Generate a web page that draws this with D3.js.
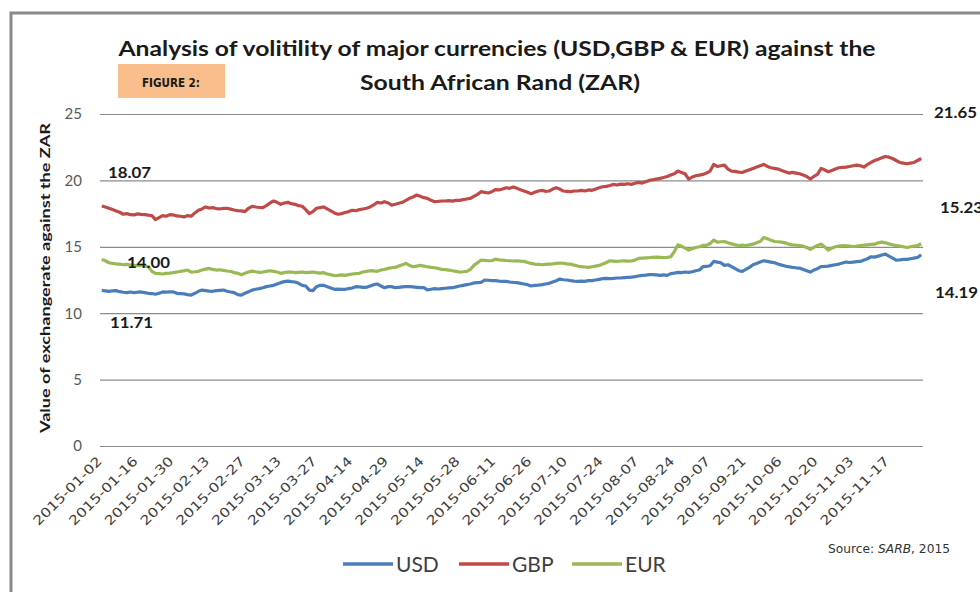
<!DOCTYPE html>
<html>
<head>
<meta charset="utf-8">
<script src="https://cdn.jsdelivr.net/npm/d3@7"></script>
<style>
  body { margin: 0; background: #fff; }
  svg { display: block; }
</style>
</head>
<body>
<svg width="980" height="592"></svg>
<script>
// trading days 2015-01-02 .. 2015-11-30, every 10th one is labelled
var tickLabels = ["2015-01-02","2015-01-16","2015-01-30","2015-02-13","2015-02-27","2015-03-13",
	"2015-03-27","2015-04-14","2015-04-29","2015-05-14","2015-05-28","2015-06-11","2015-06-26",
	"2015-07-10","2015-07-24","2015-08-07","2015-08-24","2015-09-07","2015-09-21","2015-10-06",
	"2015-10-20","2015-11-03","2015-11-17"];

var usd = [
	11.71,11.68,11.65,11.68,11.7,11.62,11.58,11.55,11.6,11.55,
	11.58,11.6,11.55,11.5,11.48,11.43,11.5,11.6,11.58,
	11.6,11.6,11.5,11.48,11.45,11.4,11.36,11.5,11.65,11.74,
	11.7,11.66,11.65,11.7,11.72,11.74,11.65,11.6,11.55,
	11.4,11.36,11.5,11.62,11.74,11.8,11.85,11.92,12.0,12.05,
	12.1,12.2,12.3,12.38,12.42,12.38,12.35,12.25,12.1,12.05,
	11.74,11.7,12.0,12.1,12.1,12.0,11.9,11.8,11.82,
	11.8,11.8,11.85,11.9,12.0,11.98,11.95,11.95,12.05,12.15,
	12.2,12.05,11.92,12.0,12.0,11.92,11.95,11.98,12.0,
	12.0,11.98,11.95,11.92,11.92,11.75,11.8,11.85,11.82,11.85,
	11.88,11.9,11.92,11.98,12.05,12.1,12.15,12.2,12.28,
	12.3,12.32,12.5,12.48,12.45,12.45,12.42,12.4,12.4,12.35,
	12.32,12.3,12.25,12.2,12.15,12.05,12.1,12.12,12.15,12.2,
	12.25,12.35,12.45,12.57,12.52,12.5,12.45,12.42,12.4,
	12.42,12.4,12.45,12.45,12.5,12.55,12.6,12.62,12.6,12.62,
	12.65,12.65,12.68,12.7,12.72,12.75,12.8,12.85,12.87,
	12.9,12.9,12.88,12.85,12.88,12.85,12.98,13.02,13.07,13.05,
	13.1,13.07,13.12,13.2,13.25,13.5,13.52,13.57,13.9,13.85,
	13.8,13.6,13.65,13.5,13.35,13.2,13.15,13.3,13.45,
	13.65,13.75,13.85,13.95,13.9,13.85,13.8,13.7,13.62,13.55,
	13.5,13.45,13.42,13.4,13.3,13.2,13.1,13.25,13.35,
	13.5,13.52,13.55,13.6,13.65,13.7,13.78,13.85,13.82,13.85,
	13.88,13.9,14.0,14.1,14.25,14.22,14.3,14.38,14.45,
	14.3,14.15,14.0,14.02,14.05,14.05,14.1,14.15,14.2,14.4
];

var gbp = [
	18.07,18.0,17.9,17.8,17.7,17.6,17.45,17.5,17.42,17.4,
	17.48,17.44,17.42,17.38,17.35,17.05,17.2,17.35,17.3,
	17.42,17.4,17.33,17.3,17.25,17.35,17.3,17.55,17.75,17.85,
	18.0,17.92,17.95,17.88,17.85,17.9,17.9,17.84,17.77,
	17.72,17.7,17.65,17.9,18.05,18.0,17.96,17.95,18.1,18.3,
	18.45,18.35,18.2,18.3,18.35,18.25,18.2,18.1,18.05,17.8,
	17.5,17.65,17.9,17.95,18.0,17.85,17.7,17.55,17.45,
	17.5,17.58,17.65,17.75,17.72,17.8,17.85,17.9,18.0,18.15,
	18.35,18.3,18.4,18.3,18.14,18.2,18.28,18.35,18.5,
	18.65,18.75,18.9,18.8,18.7,18.65,18.5,18.4,18.42,18.45,
	18.45,18.48,18.44,18.5,18.5,18.55,18.6,18.65,18.8,
	18.95,19.15,19.1,19.05,19.15,19.3,19.28,19.35,19.45,19.4,
	19.5,19.4,19.3,19.2,19.1,19.0,19.1,19.2,19.25,19.18,
	19.2,19.35,19.45,19.35,19.2,19.18,19.15,19.2,19.2,
	19.25,19.2,19.28,19.25,19.35,19.45,19.52,19.55,19.62,19.7,
	19.65,19.72,19.7,19.75,19.7,19.78,19.85,19.8,19.9,
	20.0,20.05,20.1,20.15,20.22,20.3,20.4,20.5,20.7,20.6,
	20.5,20.1,20.25,20.35,20.4,20.45,20.55,20.7,21.2,21.05,
	21.1,21.15,20.85,20.7,20.68,20.62,20.6,20.7,20.8,
	20.9,21.0,21.1,21.2,21.05,20.95,20.9,20.85,20.75,20.65,
	20.55,20.6,20.55,20.5,20.4,20.3,20.1,20.3,20.45,
	20.9,20.8,20.65,20.75,20.85,20.95,20.98,21.0,21.05,21.1,
	21.15,21.1,21.0,21.2,21.35,21.5,21.6,21.7,21.8,
	21.75,21.65,21.5,21.35,21.3,21.25,21.3,21.35,21.5,21.65
];

var eur = [
	14.05,13.95,13.8,13.75,13.72,13.7,13.65,13.68,13.62,13.6,
	13.58,13.6,13.55,13.5,13.15,13.0,12.98,12.95,13.0,
	13.02,13.05,13.1,13.15,13.2,13.25,13.1,13.12,13.15,13.25,
	13.32,13.37,13.3,13.25,13.27,13.22,13.18,13.15,13.05,
	13.0,12.9,13.0,13.1,13.17,13.12,13.08,13.1,13.15,13.2,
	13.15,13.1,13.0,13.05,13.1,13.1,13.05,13.08,13.1,13.05,
	13.08,13.1,13.05,13.02,13.05,12.95,12.9,12.83,12.85,
	12.88,12.85,12.9,12.95,12.98,13.0,13.1,13.15,13.2,13.18,
	13.15,13.25,13.3,13.37,13.42,13.45,13.55,13.65,13.75,
	13.6,13.5,13.55,13.6,13.55,13.5,13.45,13.42,13.37,13.3,
	13.28,13.25,13.2,13.15,13.1,13.12,13.15,13.3,13.6,
	13.8,14.0,13.98,13.95,13.95,14.07,14.02,14.0,13.97,13.95,
	13.93,13.95,13.92,13.9,13.82,13.75,13.7,13.68,13.65,13.68,
	13.7,13.72,13.75,13.78,13.76,13.72,13.7,13.62,13.55,
	13.5,13.48,13.45,13.5,13.55,13.6,13.7,13.82,13.95,13.92,
	13.9,13.93,13.95,13.92,13.93,14.0,14.13,14.15,14.17,
	14.18,14.2,14.22,14.2,14.18,14.2,14.25,14.63,15.15,15.05,
	14.9,14.75,14.85,14.95,15.0,15.1,15.1,15.25,15.5,15.35,
	15.38,15.4,15.3,15.22,15.15,15.1,15.12,15.1,15.15,
	15.2,15.3,15.4,15.7,15.6,15.5,15.4,15.38,15.35,15.3,
	15.2,15.15,15.12,15.1,15.05,14.95,14.8,14.95,15.1,
	15.2,15.0,14.75,14.9,15.0,15.05,15.1,15.08,15.05,15.02,
	15.05,15.1,15.12,15.15,15.18,15.2,15.3,15.35,15.3,
	15.22,15.15,15.1,15.05,15.0,14.95,15.0,15.05,15.1,15.23
];

var seriesNames = ["USD", "GBP", "EUR"];
var seriesColors = ["#4a7ebb", "#be4b48", "#98b954"];
var yTicks = [0, 5, 10, 15, 20, 25];

// value callouts as they stand on the original figure
var calloutLeft = [{t: "18.07", v: 18.07}, {t: "14.00", v: 14.00}, {t: "11.71", v: 11.71}];
var calloutRight = [{t: "21.65", v: 21.65}, {t: "15.23", v: 15.23}, {t: "14.19", v: 14.19}];

var svg = d3.select("svg");

var x = d3.scaleLinear().domain([-0.5, usd.length - 0.5]).range([100, 923]),
	y = d3.scaleLinear().domain([0, 25]).range([446, 114]);

// frame (cropped on the right and bottom)
svg.append("rect")
	.attr("x", 11).attr("y", 13)
	.attr("width", 1000).attr("height", 620)
	.attr("fill", "none")
	.attr("stroke", "#8a8a8a")
	.attr("stroke-width", 3);

// title
var title = svg.append("g")
	.attr("font-family", "Lato, 'Open Sans', sans-serif")
	.attr("font-weight", "bold")
	.attr("font-size", 20)
	.attr("fill", "#1a1a1a")
	.attr("text-anchor", "middle");
title.append("text")
	.attr("x", 497).attr("y", 56)
	.attr("textLength", 757).attr("lengthAdjust", "spacingAndGlyphs")
	.text("Analysis of volitility  of major currencies (USD,GBP & EUR) against the");
title.append("text")
	.attr("x", 500).attr("y", 90)
	.attr("textLength", 280).attr("lengthAdjust", "spacingAndGlyphs")
	.text("South African Rand (ZAR)");

// figure tag
svg.append("rect")
	.attr("x", 118).attr("y", 64)
	.attr("width", 107).attr("height", 34)
	.attr("fill", "#f9be8c");
svg.append("text")
	.attr("x", 171).attr("y", 87)
	.attr("text-anchor", "middle")
	.attr("font-family", "'DejaVu Sans Condensed', 'Liberation Sans Narrow', sans-serif")
	.attr("font-weight", "bold")
	.attr("font-size", 12)
	.attr("textLength", 58).attr("lengthAdjust", "spacingAndGlyphs")
	.attr("fill", "#1a1a1a")
	.text("FIGURE 2:");

// y axis with gridlines
var yAxis = svg.append("g")
	.attr("transform", "translate(100,0)")
	.call(d3.axisLeft(y).tickValues(yTicks).tickSize(-823).tickPadding(18));
yAxis.select(".domain").remove();
yAxis.selectAll(".tick line").attr("stroke", "#8c8c8c").attr("stroke-width", 1.2);
yAxis.selectAll(".tick text")
	.attr("font-family", "Lato, 'Open Sans', sans-serif")
	.attr("font-size", 15)
	.attr("fill", "#595959");

svg.append("text")
	.attr("transform", "translate(50,278) rotate(-90)")
	.attr("text-anchor", "middle")
	.attr("font-family", "Lato, 'Open Sans', sans-serif")
	.attr("font-weight", "bold")
	.attr("font-size", 14)
	.attr("textLength", 310).attr("lengthAdjust", "spacingAndGlyphs")
	.attr("fill", "#1a1a1a")
	.text("Value of exchangerate against  the ZAR");

// x labels, rotated
svg.append("g")
	.selectAll("text")
	.data(tickLabels)
	.join("text")
	.attr("transform", function(d, k) { return "translate(" + (x(k * 10) + 1) + ",462) rotate(-45)"; })
	.attr("text-anchor", "end")
	.attr("font-family", "'DejaVu Sans', sans-serif")
	.attr("font-size", 13)
	.attr("textLength", 91).attr("lengthAdjust", "spacingAndGlyphs")
	.attr("fill", "#404040")
	.text(function(d) { return d; });

// series lines
var line = d3.line()
	.x(function(d, i) { return x(i); })
	.y(function(d) { return y(d); });

[usd, gbp, eur].forEach(function(values, s) {
	svg.append("path")
		.datum(values)
		.attr("d", line)
		.attr("fill", "none")
		.attr("stroke", seriesColors[s])
		.attr("stroke-width", 3.2)
		.attr("stroke-linejoin", "round");
});

// callouts
var calloutStyle = function(sel) {
	sel.attr("font-family", "Lato, 'Open Sans', sans-serif")
		.attr("font-weight", "bold")
		.attr("font-size", 15)
		.attr("fill", "#1a1a1a");
};
var leftPos = [[108, 178], [127, 268], [110, 328]];
svg.append("g").call(calloutStyle)
	.selectAll("text").data(calloutLeft).join("text")
	.attr("x", function(d, k) { return leftPos[k][0]; })
	.attr("y", function(d, k) { return leftPos[k][1]; })
	.attr("textLength", 43).attr("lengthAdjust", "spacingAndGlyphs")
	.text(function(d) { return d.t; });
var rightPos = [[934, 118], [940, 213], [935, 298]];
svg.append("g").call(calloutStyle)
	.selectAll("text").data(calloutRight).join("text")
	.attr("x", function(d, k) { return rightPos[k][0]; })
	.attr("y", function(d, k) { return rightPos[k][1]; })
	.attr("textLength", 43).attr("lengthAdjust", "spacingAndGlyphs")
	.text(function(d) { return d.t; });

// legend
var legend = svg.append("g")
	.selectAll("g")
	.data(seriesNames)
	.join("g")
	.attr("transform", function(d, k) { return "translate(" + [343, 459, 572][k] + ",564)"; });
legend.append("line")
	.attr("x1", 0).attr("x2", 50)
	.attr("stroke", function(d, k) { return seriesColors[k]; })
	.attr("stroke-width", 3.5);
legend.append("text")
	.attr("x", 53).attr("y", 8)
	.attr("font-family", "Lato, 'Open Sans', sans-serif")
	.attr("font-size", 21)
	.attr("fill", "#404040")
	.text(function(d) { return d; });

// source note
var src = svg.append("text")
	.attr("x", 828).attr("y", 553)
	.attr("font-family", "'DejaVu Sans', sans-serif")
	.attr("font-size", 12)
	.attr("fill", "#333")
	.attr("textLength", 122).attr("lengthAdjust", "spacingAndGlyphs");
src.append("tspan").text("Source: ");
src.append("tspan").attr("font-style", "italic").text("SARB");
src.append("tspan").text(", 2015");
</script>
</body>
</html>
